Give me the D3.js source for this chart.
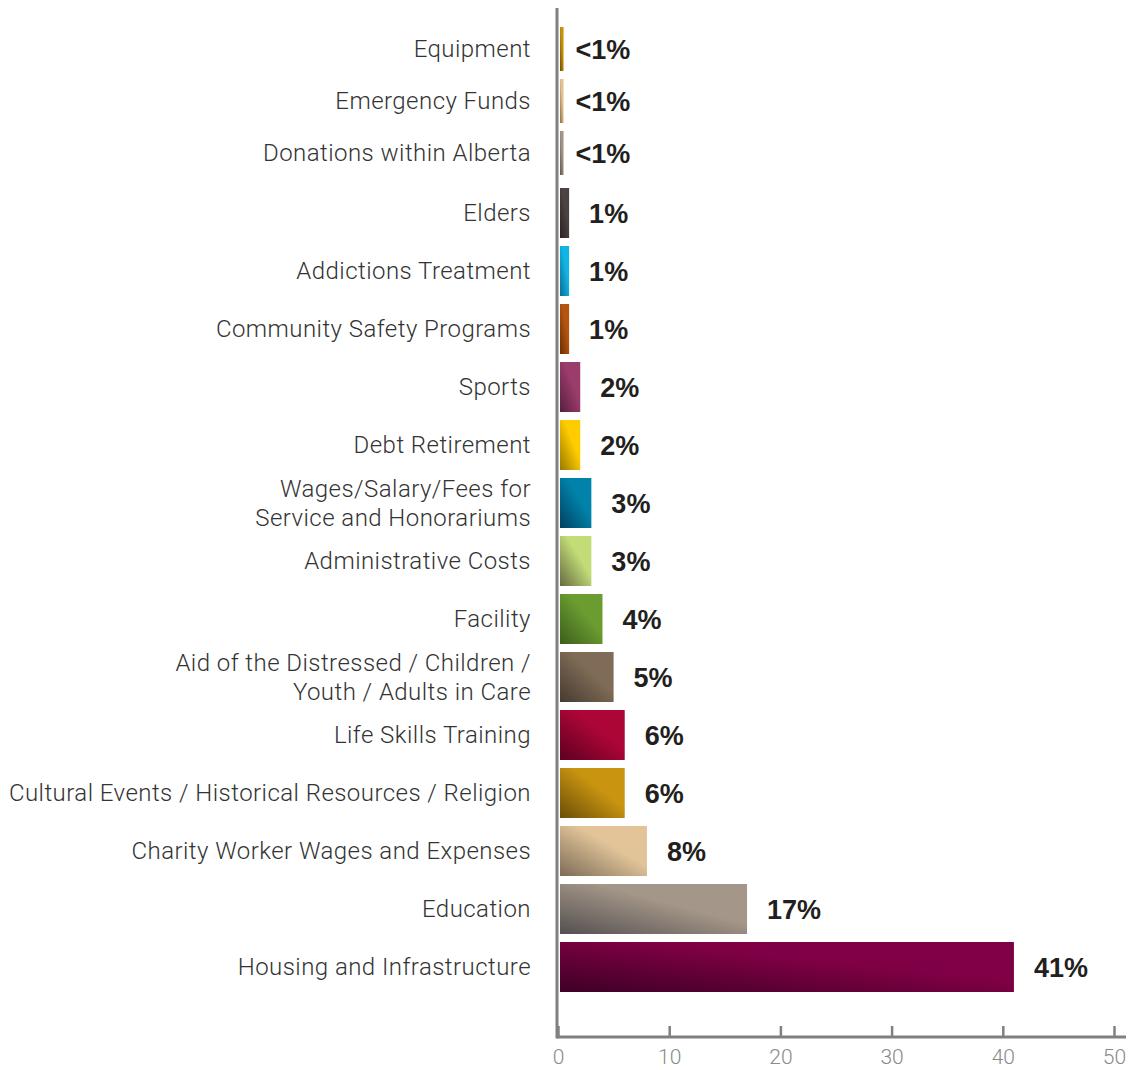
<!DOCTYPE html>
<html>
<head>
<meta charset="utf-8">
<script src="https://cdn.jsdelivr.net/npm/d3@7"></script>
<style>
  body { margin: 0; background: #fff; }
  .cat { font-family: Roboto, "Liberation Sans", sans-serif; font-weight: 300; font-size: 24px; letter-spacing: 0.45px; fill: #333; }
  .val { font-family: "Liberation Sans", Arial, sans-serif; font-weight: bold; font-size: 27px; fill: #231f20; }
  .tick text { font-family: Roboto, "Liberation Sans", sans-serif; font-weight: 300; font-size: 21px; fill: #8a8a8a; }
</style>
</head>
<body>
<svg id="chart" width="1132" height="1070"></svg>
<script>
// categories, top to bottom
var smallCats = ["Equipment", "Emergency Funds", "Donations within Alberta"];
var mainCats = ["Elders", "Addictions Treatment", "Community Safety Programs", "Sports",
  "Debt Retirement", "Wages/Salary/Fees for\nService and Honorariums", "Administrative Costs",
  "Facility", "Aid of the Distressed / Children /\nYouth / Adults in Care", "Life Skills Training",
  "Cultural Events / Historical Resources / Religion", "Charity Worker Wages and Expenses",
  "Education", "Housing and Infrastructure"];

// percent values
var smallValues = [0.5, 0.5, 0.5];
var mainValues = [1, 1, 1, 2, 2, 3, 3, 4, 5, 6, 6, 8, 17, 41];

// value labels
var smallLabels = ["<1%", "<1%", "<1%"];
var mainLabels = ["1%", "1%", "1%", "2%", "2%", "3%", "3%", "4%", "5%", "6%", "6%", "8%", "17%", "41%"];

// bar colours (base, dark corner)
var smallColors = [["#c8900f", "#6b4e05"], ["#e2c292", "#8a6d45"], ["#a39688", "#5a5550"]];
var mainColors = [["#4c4242", "#2a2022"], ["#12b4e4", "#0a6a90"], ["#b4540e", "#6a2e05"],
  ["#9c3c6c", "#55203f"], ["#ffcc00", "#9a7800"], ["#0082aa", "#03405e"], ["#c2dc78", "#666a40"],
  ["#6a9c30", "#3c5e1c"], ["#806c56", "#463a30"], ["#ac0636", "#5e0022"], ["#c99410", "#6a4e08"],
  ["#e2c498", "#7c6c58"], ["#a49688", "#545050"], ["#800045", "#3e0026"]];

var xTicks = [0, 10, 20, 30, 40, 50];

var svg = d3.select("#chart");
var x0 = 558, axisY = 1037;

var x = d3.scaleLinear().domain([0, 50]).range([x0, 1114]);

// top group sits a bit tighter than the rest
var ySmall = d3.scaleBand().domain(smallCats).range([23, 179]).paddingInner(0.154).paddingOuter(0.077);
var yMain = d3.scaleBand().domain(mainCats).range([184, 996]).paddingInner(0.138).paddingOuter(0.069);

var rows = [];
smallCats.forEach(function(c, i) {
  rows.push({cat: c, v: smallValues[i], lab: smallLabels[i], col: smallColors[i], y: ySmall(c), h: ySmall.bandwidth(), gap: 12});
});
mainCats.forEach(function(c, i) {
  rows.push({cat: c, v: mainValues[i], lab: mainLabels[i], col: mainColors[i], y: yMain(c), h: yMain.bandwidth(), gap: 20});
});

// diagonal gradients, dark at bottom-left
var defs = svg.append("defs");
rows.forEach(function(d, i) {
  var g = defs.append("linearGradient").attr("id", "g" + i)
    .attr("x1", 0).attr("y1", 1).attr("x2", 1).attr("y2", 0);
  g.append("stop").attr("offset", 0).attr("stop-color", d.col[1]);
  g.append("stop").attr("offset", 0.6).attr("stop-color", d.col[0]);
  g.append("stop").attr("offset", 1).attr("stop-color", d.col[0]);
});

svg.selectAll("rect.bar")
  .data(rows)
  .join("rect")
  .attr("class", "bar")
  .attr("x", x0 + 2)
  .attr("y", function(d) { return d.y; })
  .attr("width", function(d) { return x(d.v) - x0 - 2; })
  .attr("height", function(d) { return d.h; })
  .style("fill", function(d, i) { return "url(#g" + i + ")"; });

// category labels (some on two lines)
svg.selectAll("text.cat")
  .data(rows)
  .join("text")
  .attr("class", "cat")
  .attr("text-anchor", "end")
  .attr("x", 531)
  .attr("y", function(d) { return d.y + d.h / 2; })
  .each(function(d) {
    var lines = d.cat.split("\n");
    var t = d3.select(this);
    lines.forEach(function(l, k) {
      t.append("tspan").attr("x", 531)
        .attr("dy", k == 0 ? (0.35 - (lines.length - 1) * 0.6) + "em" : "1.2em")
        .text(l);
    });
  });

// value labels
svg.selectAll("text.val")
  .data(rows)
  .join("text")
  .attr("class", "val")
  .attr("x", function(d) { return x(d.v) + d.gap; })
  .attr("y", function(d) { return d.y + d.h / 2; })
  .attr("dy", "0.36em")
  .text(function(d) { return d.lab; });

// x axis
var xAxis = d3.axisBottom(x).tickValues(xTicks).tickSize(0).tickPadding(12);
var ax = svg.append("g").attr("transform", "translate(0," + axisY + ")").call(xAxis);
ax.select(".domain").remove();
ax.selectAll(".tick").append("line")
  .attr("y1", 0).attr("y2", -11)
  .style("stroke", "#808080").style("stroke-width", 2.5);

svg.append("line").attr("x1", x0 - 1).attr("x2", 1126).attr("y1", axisY).attr("y2", axisY)
  .style("stroke", "#808080").style("stroke-width", 3);
svg.append("line").attr("x1", x0 - 1).attr("x2", x0 - 1).attr("y1", 8).attr("y2", axisY + 1.5)
  .style("stroke", "#808080").style("stroke-width", 3);
</script>
</body>
</html>
